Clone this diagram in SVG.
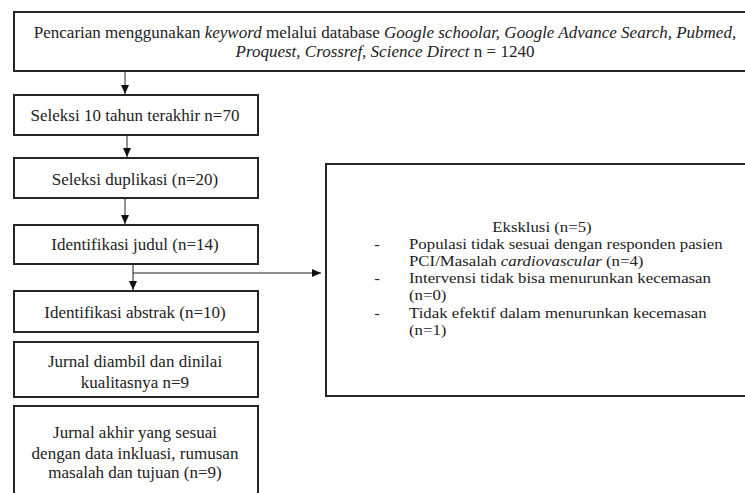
<svg xmlns="http://www.w3.org/2000/svg" width="745" height="493" viewBox="0 0 745 493">
<defs>
<style>
.box{fill:#fff;stroke:#262626;stroke-width:2}
.t{font-family:"Liberation Serif","Times New Roman",serif;font-size:17px;fill:#222}
.s{font-size:15px}
.c{text-anchor:middle}
.i{font-style:italic}
.ln{stroke:#222;stroke-width:1;fill:none}
</style>
<marker id="ah" markerWidth="10" markerHeight="10" refX="9" refY="5" orient="auto" markerUnits="userSpaceOnUse">
<path d="M0,1 L9,5 L0,9 z" fill="#111"/>
</marker>
</defs>
<rect width="745" height="493" fill="#fff"/>
<g id="connectors">
<line class="ln" x1="125" y1="71" x2="125" y2="94" marker-end="url(#ah)"/>
<line class="ln" x1="127" y1="135" x2="127" y2="157" marker-end="url(#ah)"/>
<line class="ln" x1="125" y1="198" x2="125" y2="224" marker-end="url(#ah)"/>
<line class="ln" x1="133" y1="264" x2="133" y2="290" marker-end="url(#ah)"/>
<line class="ln" x1="133" y1="273" x2="321" y2="273" marker-end="url(#ah)"/>
</g>
<g id="search">
<rect class="box" x="14" y="12" width="745" height="59"/>
<text class="t c" x="385" y="38">Pencarian menggunakan <tspan class="i">keyword</tspan> melalui database <tspan class="i">Google schoolar, Google Advance Search, Pubmed,</tspan></text>
<text class="t c" x="385" y="57"><tspan class="i">Proquest, Crossref, Science Direct</tspan> n = 1240</text>
</g>
<g id="seleksi10">
<rect class="box" x="14" y="95" width="244" height="40"/>
<text class="t c" x="135" y="121">Seleksi 10 tahun terakhir n=70</text>
</g>
<g id="duplikasi">
<rect class="box" x="14" y="158" width="244" height="40"/>
<text class="t c" x="135" y="185">Seleksi duplikasi (n=20)</text>
</g>
<g id="judul">
<rect class="box" x="14" y="225" width="244" height="39"/>
<text class="t c" x="135" y="250">Identifikasi judul (n=14)</text>
</g>
<g id="abstrak">
<rect class="box" x="14" y="291" width="244" height="41"/>
<text class="t c" x="135" y="318">Identifikasi abstrak (n=10)</text>
</g>
<g id="diambil">
<rect class="box" x="14" y="342" width="244" height="55"/>
<text class="t c" x="135" y="367">Jurnal diambil dan dinilai</text>
<text class="t c" x="135" y="388">kualitasnya n=9</text>
</g>
<g id="akhir">
<rect class="box" x="14" y="406" width="244" height="100"/>
<text class="t c" x="135" y="438">Jurnal akhir yang sesuai</text>
<text class="t c" x="135" y="459">dengan data inkluasi, rumusan</text>
<text class="t c" x="135" y="478">masalah dan tujuan (n=9)</text>
</g>
<g id="eksklusi">
<rect class="box" x="326" y="164" width="432" height="232"/>
<g transform="translate(377,0) scale(1.12,1)">
<text class="t s c" x="147.3" y="232">Eksklusi (n=5)</text>
<text class="t s c" x="0" y="249">-</text>
<text class="t s" x="28.6" y="249">Populasi tidak sesuai dengan responden pasien</text>
<text class="t s" x="28.6" y="266">PCI/Masalah <tspan class="i">cardiovascular</tspan> (n=4)</text>
<text class="t s c" x="0" y="283">-</text>
<text class="t s" x="28.6" y="283">Intervensi tidak bisa menurunkan kecemasan</text>
<text class="t s" x="28.6" y="300">(n=0)</text>
<text class="t s c" x="0" y="318">-</text>
<text class="t s" x="28.6" y="318">Tidak efektif dalam menurunkan kecemasan</text>
<text class="t s" x="28.6" y="335">(n=1)</text>
</g>
</g>
</svg>
